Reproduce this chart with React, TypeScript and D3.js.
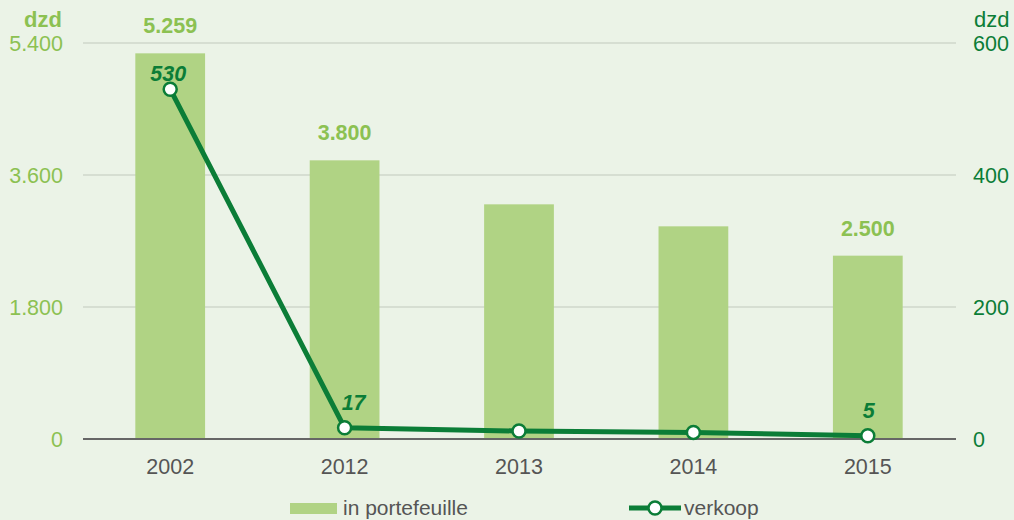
import React from "react";
import * as d3 from "d3";

const categories = ["2002", "2012", "2013", "2014", "2015"];
const portefeuille = [5259, 3800, 3200, 2900, 2500];
const verkoop = [530, 17, 12, 10, 5];
const barLabels = ["5.259", "3.800", "", "", "2.500"];
const lineLabels = ["530", "17", "", "", "5"];
const leftTicks = [0, 1800, 3600, 5400];
const leftTickLabels = ["0", "1.800", "3.600", "5.400"];
const rightTicks = [0, 200, 400, 600];
const seriesNames = ["in portefeuille", "verkoop"];
const unitLabel = "dzd";

const W = 1014;
const H = 520;
const m = { left: 83, right: 59, top: 43, bottom: 81 };
const FONT = "'Liberation Sans', Arial, sans-serif";

const BG = "#ebf3e7";
const BAR = "#b0d384";
const LIGHT = "#8cc152";
const DARK = "#0b7d37";
const GRID = "#d6ded2";
const AXIS = "#666666";
const TEXT = "#555555";

export default function App() {
  const x = d3
    .scaleBand<string>()
    .domain(categories)
    .range([m.left, W - m.right])
    .paddingInner(0.6)
    .paddingOuter(0.3);
  const yL = d3.scaleLinear().domain([0, 5400]).range([H - m.bottom, m.top]);
  const yR = d3.scaleLinear().domain([0, 600]).range([H - m.bottom, m.top]);
  const cx = (c: string) => (x(c) as number) + x.bandwidth() / 2;
  const line = d3
    .line<number>()
    .x((_, i) => cx(categories[i]))
    .y((d) => yR(d));

  return (
    <svg
      width={W}
      height={H}
      style={{ position: "fixed", left: 0, top: 0, background: BG, fontFamily: FONT }}
    >
      <rect x={0} y={0} width={W} height={H} fill={BG} />
      {leftTicks.map((t, i) =>
        t === 0 ? null : (
          <line key={"g" + i} x1={m.left} x2={W - m.right + 1} y1={yL(t)} y2={yL(t)} stroke={GRID} strokeWidth={2} />
        )
      )}
      {categories.map((c, i) => (
        <rect
          key={"b" + c}
          x={x(c)}
          y={yL(portefeuille[i])}
          width={x.bandwidth()}
          height={yL(0) - yL(portefeuille[i])}
          fill={BAR}
        />
      ))}
      <line x1={m.left} x2={W - m.right + 1} y1={yL(0)} y2={yL(0)} stroke={AXIS} strokeWidth={2} />
      {leftTicks.map((t, i) => (
        <text key={"lt" + i} x={63} y={yL(t)} dy="0.36em" textAnchor="end" fontSize={21.5} fill={LIGHT}>
          {leftTickLabels[i]}
        </text>
      ))}
      {rightTicks.map((t, i) => (
        <text key={"rt" + i} x={973} y={yR(t)} dy="0.36em" textAnchor="start" fontSize={21.5} fill={DARK}>
          {String(t)}
        </text>
      ))}
      <text x={62} y={27} textAnchor="end" fontSize={22} fontWeight="bold" fill={LIGHT}>
        {unitLabel}
      </text>
      <text x={974} y={27} textAnchor="start" fontSize={22} fill={DARK}>
        {unitLabel}
      </text>
      {categories.map((c, i) => (
        <text key={"xl" + c} x={cx(c)} y={474} textAnchor="middle" fontSize={21.5} fill={TEXT}>
          {c}
        </text>
      ))}
      {categories.map((c, i) =>
        barLabels[i] ? (
          <text key={"bl" + c} x={cx(c)} y={yL(portefeuille[i]) - 20} textAnchor="middle" fontSize={21.5} fontWeight="bold" fill={LIGHT}>
            {barLabels[i]}
          </text>
        ) : null
      )}
      <path d={line(verkoop) as string} fill="none" stroke={DARK} strokeWidth={5} strokeLinejoin="round" />
      {categories.map((c, i) => (
        <circle key={"c" + c} cx={cx(c)} cy={yR(verkoop[i])} r={6.5} fill="#ffffff" stroke={DARK} strokeWidth={2.5} />
      ))}
      {categories.map((c, i) =>
        lineLabels[i] ? (
          <text
            key={"ll" + c}
            x={cx(c) + (i === 0 ? -2 : i === 1 ? 9 : 1)}
            y={yR(verkoop[i]) - (i === 0 ? 8 : 18)}
            textAnchor="middle"
            fontSize={21.5}
            fontWeight="bold"
            fontStyle="italic"
            fill={DARK}
          >
            {lineLabels[i]}
          </text>
        ) : null
      )}
      {/* legend */}
      <rect x={290} y={503} width={47} height={11} fill={BAR} />
      <text x={343} y={515} fontSize={21} fill={TEXT}>
        {seriesNames[0]}
      </text>
      <line x1={629} x2={681} y1={508} y2={508} stroke={DARK} strokeWidth={5} />
      <circle cx={655} cy={508} r={6.5} fill="#ffffff" stroke={DARK} strokeWidth={2.5} />
      <text x={684} y={515} fontSize={21} fill={TEXT}>
        {seriesNames[1]}
      </text>
    </svg>
  );
}
